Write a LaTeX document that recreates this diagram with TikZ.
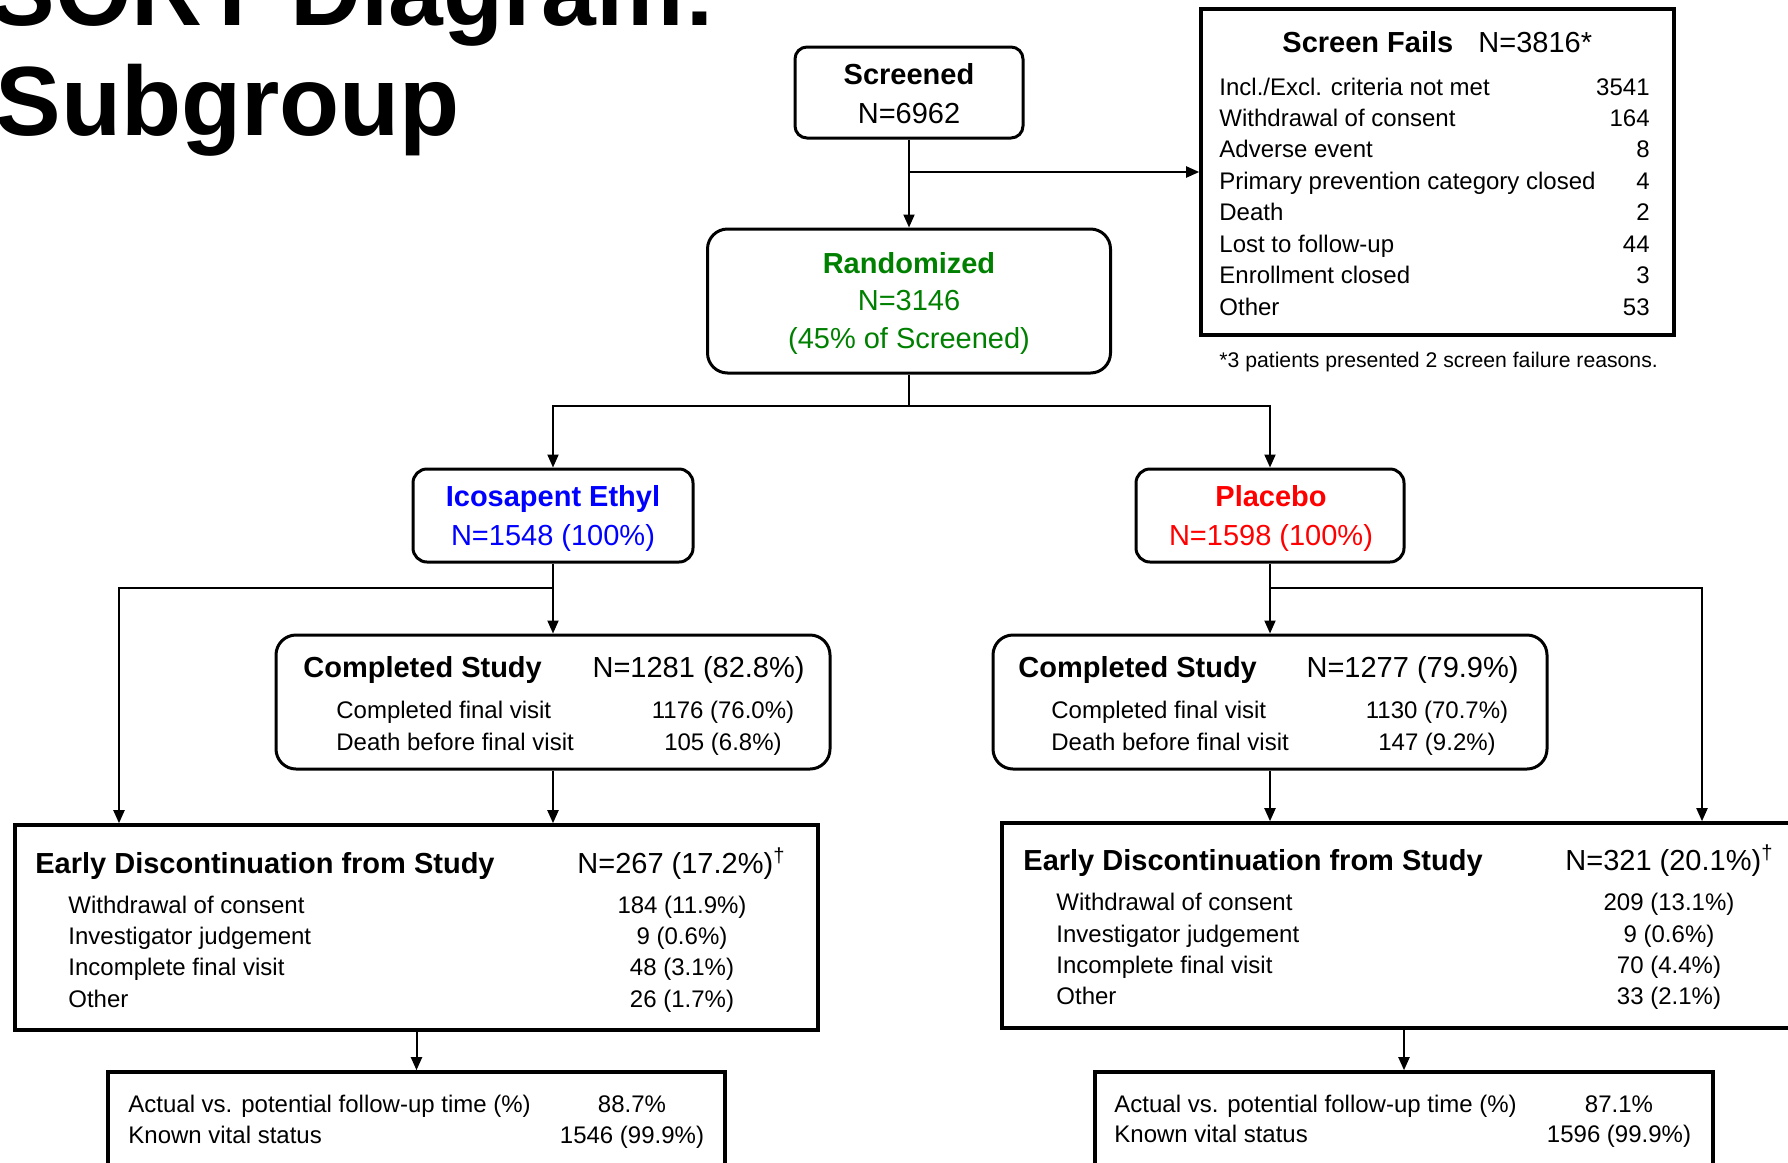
\documentclass[tikz,border=0pt]{standalone}
\usepackage{fontspec}
\setmainfont{Liberation Sans}
\usetikzlibrary{arrows.meta}
\definecolor{rgreen}{RGB}{0,128,0}
\definecolor{rblue}{RGB}{0,0,255}
\definecolor{rred}{RGB}{255,0,0}
\newcommand\fbig{\fontsize{14.5}{17}\selectfont}
\newcommand\fsmall{\fontsize{12}{14}\selectfont}
\newcommand\ffoot{\fontsize{10.6}{12}\selectfont}
\newcommand\ftitle{\fontsize{49.2}{56}\selectfont\bfseries}
\begin{document}
\begin{tikzpicture}[x=0.5pt,y=-0.5pt,
  rbox/.style={draw, line width=1.5pt, inner sep=0},
  sbox/.style={draw, line width=1.8pt, inner sep=0},
  arr/.style={line width=1pt, -{Triangle[length=6.5pt,width=5.5pt]}},
  conn/.style={line width=1pt},
  tl/.style={inner sep=0, anchor=base west},
  tr/.style={inner sep=0, anchor=base east},
  tc/.style={inner sep=0, anchor=base}]
\path[use as bounding box] (0,0) rectangle (1788,1162);
\clip (0,0) rectangle (1788,1162);
\fill[white] (0,0) rectangle (1788,1162);

% title
\node[tr] (title1) at (717,25) {\ftitle CONSORT Diagram:};
\node[tl] (title2) at (-5,135) {\ftitle Subgroup};

% boxes
\node[rbox, rounded corners=6pt, minimum width=114pt, minimum height=45.5pt] (screened) at (909,92.5) {};
\node[sbox, minimum width=236.5pt, minimum height=163pt] (fails) at (1437.5,172) {};
\node[rbox, rounded corners=10pt, minimum width=201.5pt, minimum height=72pt] (rand) at (909,301) {};
\node[rbox, rounded corners=7pt, minimum width=140pt, minimum height=46.5pt] (ice) at (553,515.5) {};
\node[rbox, rounded corners=7pt, minimum width=134pt, minimum height=46.5pt] (pla) at (1270,515.5) {};
\node[rbox, rounded corners=10pt, minimum width=277pt, minimum height=67pt] (compL) at (553,702) {};
\node[rbox, rounded corners=10pt, minimum width=277pt, minimum height=67pt] (compR) at (1270,702) {};
\node[sbox, minimum width=401.5pt, minimum height=102.5pt] (discL) at (416.5,927.5) {};
\node[sbox, minimum width=402pt, minimum height=102.5pt] (discR) at (1404,925.5) {};
\node[sbox, minimum width=308.5pt, minimum height=59pt] (fuL) at (416.5,1131) {};
\node[sbox, minimum width=309pt, minimum height=59pt] (fuR) at (1404,1131) {};

% connectors
\coordinate (split) at (909,406);
\coordinate (bl) at (119,588);
\coordinate (br) at (1702,588);
\draw[arr] (screened.south) -- (rand.north);
\draw[arr] (screened.south |- fails.west) -- (fails.west);
\draw[conn] (rand.south) -- (split);
\draw[arr] (split) -| (ice.north);
\draw[arr] (split) -| (pla.north);
\draw[arr] (ice.south) -- (compL.north);
\draw[arr] (ice.south |- bl) -- (bl) -- (bl |- discL.north);
\draw[arr] (compL.south) -- (compL.south |- discL.north);
\draw[arr] (discL.south) -- (fuL.north);
\draw[arr] (pla.south) -- (compR.north);
\draw[arr] (pla.south |- br) -- (br) -- (br |- discR.north);
\draw[arr] (compR.south) -- (compR.south |- discR.north);
\draw[arr] (discR.south) -- (fuR.north);

% screened
\node[tc] (scr1) at (909,84) {\fbig\bfseries Screened};
\node[tc] (scr2) at (909,123) {\fbig N=6962};

% screen fails
\node[tl] (sf0) at (1282,52) {\fbig\bfseries Screen Fails};
\node[tl] (sf0n) at (1478,52) {\fbig N=3816*};
\node[tl] (sf1) at (1219,95) {\fsmall Incl./Excl. criteria not met};
\node[tr] (sf1n) at (1650,95) {\fsmall 3541};
\node[tl] (sf2) at (1219,126) {\fsmall Withdrawal of consent};
\node[tr] (sf2n) at (1650,126) {\fsmall 164};
\node[tl] (sf3) at (1219,157) {\fsmall Adverse event};
\node[tr] (sf3n) at (1650,157) {\fsmall 8};
\node[tl] (sf4) at (1219,189) {\fsmall Primary prevention category closed};
\node[tr] (sf4n) at (1650,189) {\fsmall 4};
\node[tl] (sf5) at (1219,220) {\fsmall Death};
\node[tr] (sf5n) at (1650,220) {\fsmall 2};
\node[tl] (sf6) at (1219,252) {\fsmall Lost to follow-up};
\node[tr] (sf6n) at (1650,252) {\fsmall 44};
\node[tl] (sf7) at (1219,283) {\fsmall Enrollment closed};
\node[tr] (sf7n) at (1650,283) {\fsmall 3};
\node[tl] (sf8) at (1219,315) {\fsmall Other};
\node[tr] (sf8n) at (1650,315) {\fsmall 53};
\node[tl] (foot) at (1219,367) {\ffoot *3 patients presented 2 screen failure reasons.};

% randomized
\node[tc, text=rgreen] (r1) at (909,273) {\fbig\bfseries Randomized};
\node[tc, text=rgreen] (r2) at (909,310) {\fbig N=3146};
\node[tc, text=rgreen] (r3) at (909,348) {\fbig (45\% of Screened)};

% arms
\node[tc, text=rblue] (i1) at (553,506) {\fbig\bfseries Icosapent Ethyl};
\node[tc, text=rblue] (i2) at (553,545) {\fbig N=1548 (100\%)};
\node[tc, text=rred] (p1) at (1271,506) {\fbig\bfseries Placebo};
\node[tc, text=rred] (p2) at (1271,545) {\fbig N=1598 (100\%)};

% completed left
\node[tl] (cl0) at (303,677) {\fbig\bfseries Completed Study};
\node[tr] (cl0n) at (805,677) {\fbig N=1281 (82.8\%)};
\node[tl] (cl1) at (336,718) {\fsmall Completed final visit};
\node[tc] (cl1n) at (723,718) {\fsmall 1176 (76.0\%)};
\node[tl] (cl2) at (336,750) {\fsmall Death before final visit};
\node[tc] (cl2n) at (723,750) {\fsmall 105 (6.8\%)};

% completed right
\node[tl] (cr0) at (1018,677) {\fbig\bfseries Completed Study};
\node[tr] (cr0n) at (1519,677) {\fbig N=1277 (79.9\%)};
\node[tl] (cr1) at (1051,718) {\fsmall Completed final visit};
\node[tc] (cr1n) at (1437,718) {\fsmall 1130 (70.7\%)};
\node[tl] (cr2) at (1051,750) {\fsmall Death before final visit};
\node[tc] (cr2n) at (1437,750) {\fsmall 147 (9.2\%)};

% discontinuation left
\node[tl] (dl0) at (35,873) {\fbig\bfseries Early Discontinuation from Study};
\node[tl] (dl0n) at (577,873) {\fbig N=267 (17.2\%)\textsuperscript{†}};
\node[tl] (dl1) at (68,913) {\fsmall Withdrawal of consent};
\node[tc] (dl1n) at (682,913) {\fsmall 184 (11.9\%)};
\node[tl] (dl2) at (68,944) {\fsmall Investigator judgement};
\node[tc] (dl2n) at (682,944) {\fsmall 9 (0.6\%)};
\node[tl] (dl3) at (68,975) {\fsmall Incomplete final visit};
\node[tc] (dl3n) at (682,975) {\fsmall 48 (3.1\%)};
\node[tl] (dl4) at (68,1007) {\fsmall Other};
\node[tc] (dl4n) at (682,1007) {\fsmall 26 (1.7\%)};

% discontinuation right
\node[tl] (dr0) at (1023,870) {\fbig\bfseries Early Discontinuation from Study};
\node[tl] (dr0n) at (1565,870) {\fbig N=321 (20.1\%)\textsuperscript{†}};
\node[tl] (dr1) at (1056,910) {\fsmall Withdrawal of consent};
\node[tc] (dr1n) at (1669,910) {\fsmall 209 (13.1\%)};
\node[tl] (dr2) at (1056,942) {\fsmall Investigator judgement};
\node[tc] (dr2n) at (1669,942) {\fsmall 9 (0.6\%)};
\node[tl] (dr3) at (1056,973) {\fsmall Incomplete final visit};
\node[tc] (dr3n) at (1669,973) {\fsmall 70 (4.4\%)};
\node[tl] (dr4) at (1056,1004) {\fsmall Other};
\node[tc] (dr4n) at (1669,1004) {\fsmall 33 (2.1\%)};

% follow-up
\node[tl] (fl1) at (128,1112) {\fsmall Actual vs. potential follow-up time (\%)};
\node[tc] (fl1n) at (632,1112) {\fsmall 88.7\%};
\node[tl] (fl2) at (128,1143) {\fsmall Known vital status};
\node[tc] (fl2n) at (632,1143) {\fsmall 1546 (99.9\%)};
\node[tl] (fr1) at (1114,1112) {\fsmall Actual vs. potential follow-up time (\%)};
\node[tc] (fr1n) at (1619,1112) {\fsmall 87.1\%};
\node[tl] (fr2) at (1114,1142) {\fsmall Known vital status};
\node[tc] (fr2n) at (1619,1142) {\fsmall 1596 (99.9\%)};
\end{tikzpicture}
\end{document}
